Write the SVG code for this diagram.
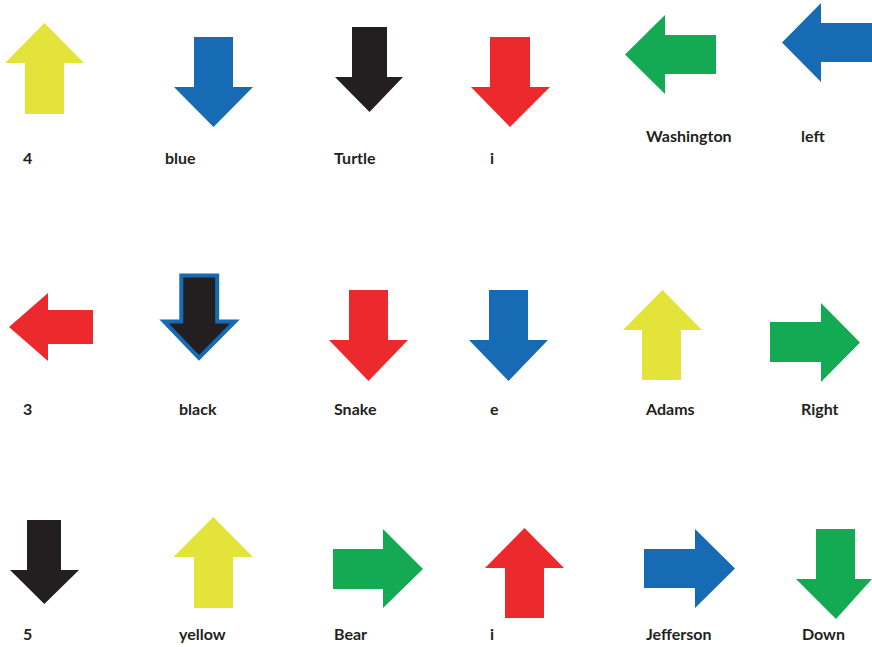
<svg xmlns="http://www.w3.org/2000/svg" width="872" height="647" viewBox="0 0 872 647">
<style>
.y{fill:#e3e33a}.b{fill:#176bb4}.k{fill:#231f20}.r{fill:#ec2a2e}.g{fill:#14aa54}
text{font-family:Lato,"Open Sans","Liberation Sans",sans-serif;font-weight:bold;font-size:16px;fill:#231f20}
</style>
<rect width="872" height="647" fill="#fff"/>
<g id="n1"><polygon class="y" points="44.5,23 84,63 64,63 64,114 25,114 25,63 5,63"/><text x="23" y="164">4</text></g>
<g id="n2"><polygon class="b" points="194,37 233,37 233,87 253,87 213.5,127 174,87 194,87"/><text x="165" y="164">blue</text></g>
<g id="n3"><polygon class="k" points="352,27 387,27 387,77 403,77 369.5,112 335,77 352,77"/><text x="334" y="164">Turtle</text></g>
<g id="n4"><polygon class="r" points="490,37 530,37 530,87 550,87 510,127 471,87 490,87"/><text x="490" y="164">i</text></g>
<g id="n5"><polygon class="g" points="625,54.5 665,15 665,35 716,35 716,74 665,74 665,94"/><text x="646" y="142">Washington</text></g>
<g id="n6"><polygon class="b" points="782,42.5 821,3 821,23 872,23 872,62 821,62 821,82"/><text x="801" y="142">left</text></g>
<g id="n7"><polygon class="r" points="9,327 48,293 48,310 93,310 93,344 48,344 48,361"/><text x="23" y="415">3</text></g>
<g id="n8"><polygon class="k" points="181.3,275.5 217.2,275.5 217.2,321.5 235,321.5 199,358 164,321.5 181.3,321.5" stroke="#176bb4" stroke-width="4"/><text x="179" y="415">black</text></g>
<g id="n9"><polygon class="r" points="349,290 388,290 388,340 408,340 368.5,381 329,340 349,340"/><text x="334" y="415">Snake</text></g>
<g id="n10"><polygon class="b" points="489,290 528,290 528,340 548,340 508.5,381 469,340 489,340"/><text x="490" y="415">e</text></g>
<g id="n11"><polygon class="y" points="662.5,290 702,330 681,330 681,380 642,380 642,330 623,330"/><text x="646" y="415">Adams</text></g>
<g id="n12"><polygon class="g" points="860,342.5 821,303 821,322 770,322 770,362 821,362 821,382"/><text x="801" y="415">Right</text></g>
<g id="n13"><polygon class="k" points="27,520 61,520 61,570 79,570 44.3,604 10,570 27,570"/><text x="23" y="640">5</text></g>
<g id="n14"><polygon class="y" points="213.3,517 253,557 233,557 233,608 194,608 194,557 173.5,557"/><text x="179" y="640">yellow</text></g>
<g id="n15"><polygon class="g" points="423,569 383,529 383,549 333,549 333,589 383,589 383,608"/><text x="334" y="640">Bear</text></g>
<g id="n16"><polygon class="r" points="524.5,528 564,568 544,568 544,618 505,618 505,568 485,568"/><text x="490" y="640">i</text></g>
<g id="n17"><polygon class="b" points="735,568.5 695,529 695,549 644,549 644,588 695,588 695,608"/><text x="646" y="640">Jefferson</text></g>
<g id="n18"><polygon class="g" points="816,529 855,529 855,579 872,579 836,619 796,579 816,579"/><text x="802" y="640">Down</text></g>
<g id="connectors"/>
</svg>
